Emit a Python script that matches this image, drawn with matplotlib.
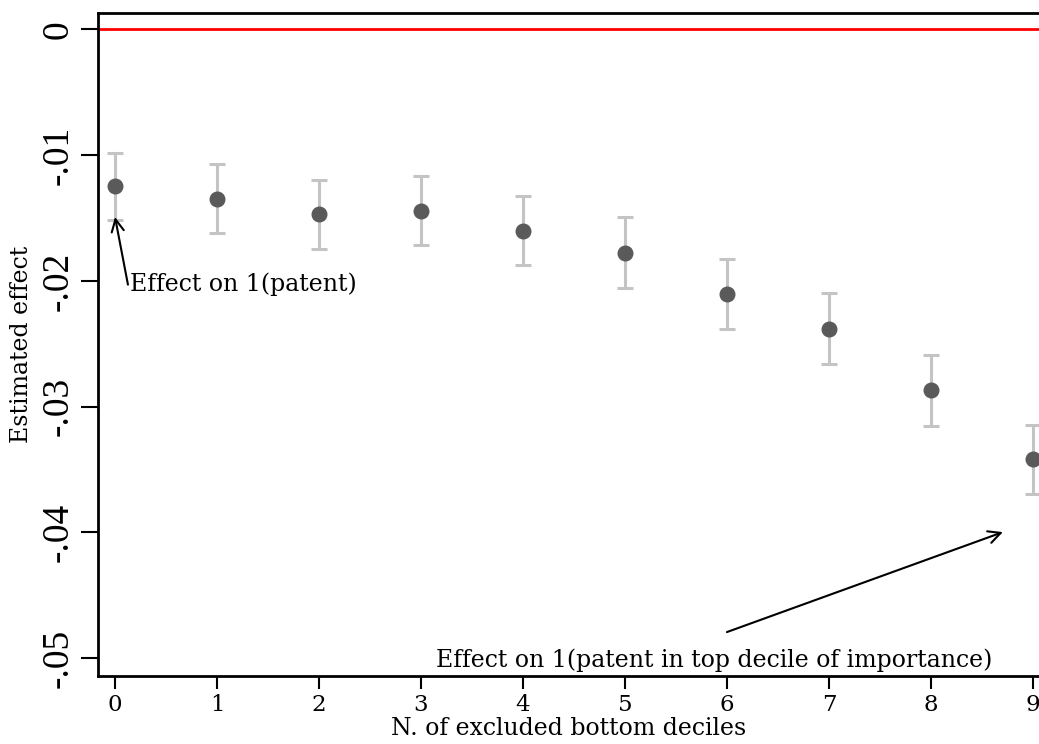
import matplotlib
matplotlib.use("Agg")
import matplotlib.pyplot as plt

plt.rcParams['font.family'] = ['DejaVu Serif']

deciles = [0, 1, 2, 3, 4, 5, 6, 7, 8, 9]
estimates = [-0.01248, -0.01348, -0.01468, -0.01444, -0.01600, -0.01778, -0.02104, -0.02383, -0.02868, -0.03419]
ci_upper = [-0.00982, -0.01072, -0.01196, -0.01165, -0.01325, -0.01492, -0.01826, -0.02096, -0.02590, -0.03146]
ci_lower = [-0.01516, -0.01620, -0.01744, -0.01714, -0.01873, -0.02056, -0.02383, -0.02661, -0.03154, -0.03698]
yticks = [0, -0.01, -0.02, -0.03, -0.04, -0.05]
yticklabels = ['0', '-.01', '-.02', '-.03', '-.04', '-.05']

fig = plt.figure(figsize=(10.39, 7.44), dpi=100)
ax = fig.add_axes([0.094, 0.0918, 0.906, 0.891])

ax.axhline(0, color='#ff0000', lw=2, zorder=1)

yerr_low = [e - l for e, l in zip(estimates, ci_lower)]
yerr_high = [u - e for e, u in zip(estimates, ci_upper)]
ax.errorbar(deciles, estimates, yerr=[yerr_low, yerr_high], fmt='none',
            ecolor='#c4c4c4', elinewidth=2.2, capsize=6, capthick=2.2, zorder=2)
ax.plot(deciles, estimates, 'o', color='#5a5a5a', markersize=10.5, zorder=3, clip_on=False)

ax.set_xlim(-0.17, 9.06)
ax.set_ylim(-0.0514, 0.00132)
ax.set_xticks(deciles)
ax.set_yticks(yticks)
ax.set_yticklabels(yticklabels, rotation=90, va='center', family='Liberation Serif')

ax.tick_params(axis='y', labelsize=27, length=12, width=1.5, pad=4)
ax.tick_params(axis='x', labelsize=16.5, length=9, width=1.5, pad=4)

for s in ['left', 'bottom', 'top']:
    ax.spines[s].set_linewidth(2)
ax.spines['right'].set_visible(False)

ax.set_xlabel('N. of excluded bottom deciles', fontsize=17, labelpad=1)
ax.set_ylabel('Estimated effect', fontsize=17, labelpad=6)

ax.annotate('', xy=(0, -0.01492), xytext=(0.127, -0.0203),
            arrowprops=dict(arrowstyle='->', lw=1.5, color='black', mutation_scale=22,
                            shrinkA=0, shrinkB=0))
ax.text(0.147, -0.0203, 'Effect on 1(patent)', fontsize=17, ha='left', va='center')

ax.annotate('', xy=(8.706, -0.03998), xytext=(6.0, -0.04793),
            arrowprops=dict(arrowstyle='->', lw=1.5, color='black', mutation_scale=22,
                            shrinkA=0, shrinkB=0))
ax.text(5.88, -0.0502, 'Effect on 1(patent in top decile of importance)', fontsize=17,
        ha='center', va='center')

fig.savefig('out.png', dpi=100)
